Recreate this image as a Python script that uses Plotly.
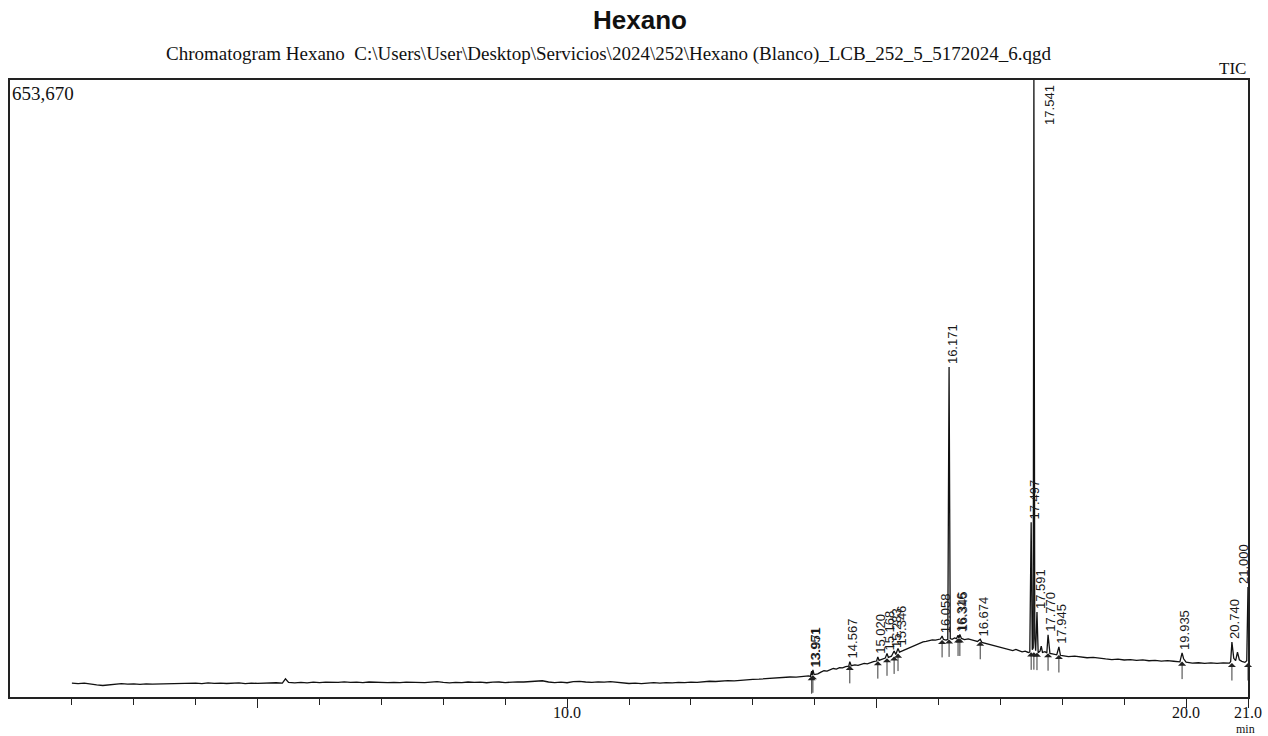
import plotly.graph_objects as go

# TIC trace: retention time (min) and intensity (counts)
time_min = [
    2.0, 2.1, 2.2, 2.3, 2.4, 2.5, 2.6, 2.7, 2.8, 2.9,
    3.0, 3.1, 3.2, 3.3, 3.4, 3.5, 3.6, 3.7, 3.8, 3.9,
    4.0, 4.1, 4.2, 4.3, 4.4, 4.5, 4.6, 4.7, 4.8, 4.9,
    5.0, 5.1, 5.2, 5.3, 5.4, 5.45, 5.5, 5.6, 5.7, 5.8, 5.9,
    6.0, 6.1, 6.2, 6.3, 6.4, 6.5, 6.6, 6.7, 6.8, 6.9,
    7.0, 7.1, 7.2, 7.3, 7.4, 7.5, 7.6, 7.7, 7.8, 7.9,
    8.0, 8.1, 8.2, 8.3, 8.4, 8.5, 8.6, 8.7, 8.8, 8.9,
    9.0, 9.1, 9.2, 9.3, 9.4, 9.5, 9.6, 9.7, 9.8, 9.9,
    10.0, 10.1, 10.2, 10.3, 10.4, 10.5, 10.6, 10.7, 10.8, 10.9,
    11.0, 11.1, 11.2, 11.3, 11.4, 11.5, 11.6, 11.7, 11.8, 11.9,
    12.0, 12.1, 12.2, 12.3, 12.4, 12.5, 12.6, 12.7, 12.8, 12.9,
    13.0, 13.1, 13.2, 13.3, 13.4, 13.5, 13.6, 13.7, 13.8, 13.9,
    13.93, 13.951, 13.96, 13.971, 13.99, 14.05, 14.1, 14.15, 14.2, 14.25,
    14.3, 14.35, 14.4, 14.45, 14.5, 14.55, 14.567, 14.59, 14.65, 14.7,
    14.75, 14.8, 14.85, 14.9, 14.95, 15.0, 15.02, 15.04, 15.1, 15.14,
    15.168, 15.19, 15.24, 15.283, 15.31, 15.346, 15.37, 15.45, 15.5, 15.55,
    15.6, 15.65, 15.7, 15.75, 15.8, 15.85, 15.9, 15.95, 16.0, 16.03,
    16.058, 16.08, 16.12, 16.15, 16.171, 16.19, 16.22, 16.26, 16.29, 16.316,
    16.33, 16.345, 16.37, 16.42, 16.48, 16.53, 16.58, 16.63, 16.674, 16.7,
    16.75, 16.8, 16.85, 16.9, 16.95, 17.0, 17.05, 17.1, 17.15, 17.2,
    17.25, 17.3, 17.35, 17.4, 17.45, 17.475, 17.497, 17.515, 17.53, 17.541,
    17.555, 17.57, 17.591, 17.61, 17.64, 17.66, 17.68, 17.72, 17.75, 17.77,
    17.8, 17.84, 17.88, 17.91, 17.945, 17.97, 18.0, 18.1, 18.2, 18.3,
    18.4, 18.5, 18.6, 18.7, 18.8, 18.9, 19.0, 19.1, 19.2, 19.3,
    19.4, 19.5, 19.6, 19.7, 19.8, 19.9, 19.935, 19.96, 20.0, 20.1,
    20.2, 20.3, 20.4, 20.5, 20.6, 20.7, 20.72, 20.74, 20.77, 20.8,
    20.83, 20.86, 20.9, 20.95, 20.98, 21.0,
]
intensity = [
    14800, 14200, 14700, 13500, 12900, 12200, 12800, 13900, 14100, 13600,
    13900, 13300, 14000, 13600, 13800, 13300, 14200, 13900, 14500, 14100,
    14700, 14200, 14900, 14400, 14800, 14300, 14600, 14900, 14200, 14700,
    14400, 14900, 14600, 15100, 14800, 19300, 15400, 14900, 15500, 15000, 15700,
    15200, 15800, 15300, 15600, 16000, 15400, 15700, 15300, 15900, 15500,
    15800, 15300, 15600, 15200, 15700, 15400, 15900, 15300, 15800, 16200,
    15500, 15000, 15600, 15200, 15900, 15400, 15800, 15100, 15700, 15900,
    15300, 15800, 16100, 15900, 16300, 16600, 17200, 15900, 15300, 15800,
    15100, 16300, 16600, 15900, 15500, 16100, 15700, 16300, 15400, 14900,
    14300, 14700, 14200, 14800, 15200, 14700, 15300, 15000, 15600, 15200,
    15800, 15400, 16200, 16700, 16400, 17000, 17400, 17100, 17800, 18200,
    18600, 18900, 19400, 19800, 20300, 20700, 21200, 21000, 21900, 22300,
    21800, 27500, 23000, 28800, 23800, 24500, 26300, 27800, 27400, 29100,
    30200, 29600, 31200, 30800, 32200, 32600, 37500, 33200, 34000, 33600,
    34800, 35700, 35200, 36600, 37400, 38100, 42500, 38700, 40100, 41200,
    46000, 42000, 43200, 48800, 45000, 51500, 47600, 49800, 51300, 53200,
    54600, 55900, 57100, 58300, 58900, 59800, 60500, 60200, 60800, 61400,
    64500, 61000, 60300, 61000, 349600, 62000, 61200, 62600, 61800, 65500,
    62200, 66200, 62000, 60900, 61500, 60300, 59700, 58800, 61200, 57900,
    57000, 56400, 55600, 54700, 53800, 53000, 52200, 51300, 50600, 49200,
    50400, 48800, 47900, 48600, 47200, 47600, 185000, 50000, 52000, 653670,
    62000, 49000, 90000, 47000, 48500, 54000, 47200, 48000, 46600, 66000,
    46200, 45800, 45100, 44700, 53000, 44200, 43900, 42800, 43300, 42100,
    41600, 41900, 40800, 40300, 39700, 40200, 39200, 39700, 38700, 39300,
    38400, 38900, 38100, 38600, 37900, 37300, 46800, 40500, 37000, 35900,
    36300, 35700, 36200, 35600, 36100, 35800, 37500, 58300, 41000, 38500,
    47500, 39500, 37800, 36700, 38500, 116500,
]

# Integrated peaks: retention time, apex height, baseline level under the peak
peak_rt = [13.951, 13.971, 14.567, 15.020, 15.168, 15.283, 15.346, 16.058, 16.171, 16.316,
           16.345, 16.674, 17.497, 17.541, 17.591, 17.770, 17.945, 19.935, 20.740, 21.000]
peak_height = [27500, 28800, 37500, 42500, 46000, 48800, 51500, 64500, 349600, 65500,
               66200, 61200, 185000, 653670, 90000, 66000, 53000, 46800, 58300, 116500]
peak_base = [22000, 23000, 33000, 38000, 41000, 43000, 46000, 60500, 61000, 62000,
             62000, 58500, 47300, 47500, 47000, 46400, 44500, 37500, 36000, 36000]

x_tick_vals = [5, 10, 15, 20, 21]
x_tick_text = ["", "10.0", "", "20.0", "21.0"]
x_minor_vals = [2, 3, 4, 6, 7, 8, 9, 11, 12, 13, 14, 16, 17, 18, 19]
x_range = [1.0, 21.0]
y_max = 653670

fig = go.Figure()
fig.add_trace(go.Scatter(
    x=time_min, y=intensity, mode="lines",
    line=dict(color="#111111", width=1.3),
    hoverinfo="skip", showlegend=False,
))

label_font = dict(family="Liberation Sans Narrow, Arial Narrow, Liberation Sans, sans-serif",
                  size=13, color="#1a1a1a")
annotations = []
for rt, h, b in zip(peak_rt, peak_height, peak_base):
    label = dict(
        x=rt, y=h, xref="x", yref="y", text=f"{rt:.3f}", textangle=-90,
        showarrow=False, xanchor="center", yanchor="bottom", xshift=3, yshift=1,
        font=label_font,
    )
    if h >= y_max:
        # off-scale peak: label kept inside the frame, beside the peak
        label.update(yanchor="top", yshift=-3, xshift=15)
    elif rt >= x_range[1]:
        # peak at the end of the run: label kept inside the right edge
        label.update(xshift=-5)
    annotations.append(label)
    # integration marker below the peak
    annotations.append(dict(
        x=rt, y=b, xref="x", yref="y", text="", showarrow=True,
        ax=0, ay=19, axref="pixel", ayref="pixel",
        arrowhead=1, arrowsize=1.5, arrowwidth=0.9, arrowcolor="#222222",
    ))

serif = "Liberation Serif, Times New Roman, serif"
annotations += [
    dict(text="<b>Hexano</b>", xref="paper", yref="paper", x=0.509, y=1.097,
         xanchor="center", yanchor="middle", showarrow=False,
         font=dict(family="Liberation Sans, Arial, sans-serif", size=26, color="#111111")),
    dict(text="Chromatogram Hexano  C:\\Users\\User\\Desktop\\Servicios\\2024\\252\\Hexano (Blanco)_LCB_252_5_5172024_6.qgd",
         xref="paper", yref="paper", x=0.4838, y=1.042, xanchor="center", yanchor="middle",
         showarrow=False, font=dict(family=serif, size=19, color="#111111")),
    dict(text="TIC", xref="paper", yref="paper", x=1.0, y=1.019, xanchor="right", yanchor="middle",
         showarrow=False, font=dict(family=serif, size=17, color="#111111")),
    dict(text=f"{y_max:,}", xref="paper", yref="paper", x=0.0, y=0.998, xanchor="left", yanchor="top",
         showarrow=False, font=dict(family=serif, size=19, color="#111111")),
    dict(text="min", xref="paper", yref="paper", x=0.998, y=-0.0515, xanchor="center", yanchor="middle",
         showarrow=False, font=dict(family=serif, size=12, color="#111111")),
]

fig.update_layout(
    width=1268, height=736,
    margin=dict(l=10, r=20, t=80, b=39),
    paper_bgcolor="white", plot_bgcolor="white",
    annotations=annotations,
    xaxis=dict(
        range=x_range, showgrid=False, zeroline=False, automargin=False,
        showline=True, mirror=True, linecolor="#222222", linewidth=1.5,
        tickmode="array", tickvals=x_tick_vals, ticktext=x_tick_text,
        ticks="outside", ticklen=9, tickwidth=1.2, tickcolor="#222222",
        ticklabelstandoff=-9,
        minor=dict(tickmode="array", tickvals=x_minor_vals, ticks="outside",
                   ticklen=6, tickwidth=1, tickcolor="#222222"),
        tickfont=dict(family=serif, size=16, color="#111111"),
    ),
    yaxis=dict(
        range=[0, y_max], showgrid=False, zeroline=False, showticklabels=False,
        automargin=False,
        showline=True, mirror=True, linecolor="#222222", linewidth=1.5, ticks="",
    ),
)

fig.write_html("out.html")
